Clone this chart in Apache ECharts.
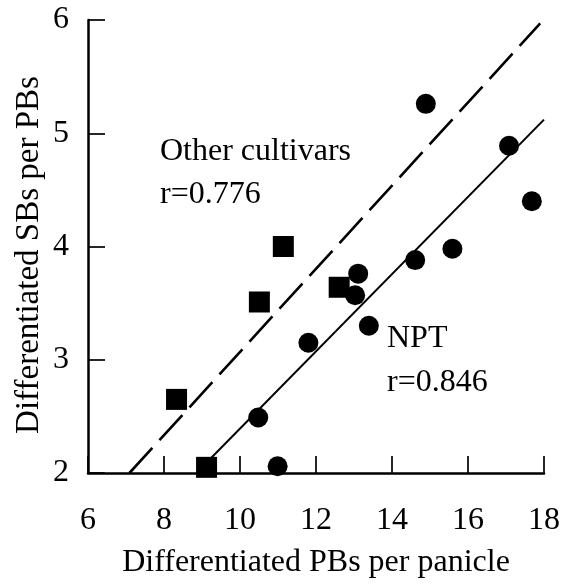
<!DOCTYPE html>
<html>
<head>
<meta charset="utf-8">
<script src="https://cdn.jsdelivr.net/npm/echarts@6/dist/echarts.min.js"></script>
<style>
html,body{margin:0;padding:0;background:#fff;}
#chart{width:569px;height:584px;}
</style>
</head>
<body>
<div id="chart"></div>
<script>
// Data
var nptX = [14.89, 17.08, 17.68, 15.59, 14.61, 13.11, 13.03, 13.39, 11.80, 10.48, 10.99];
var nptY = [5.26, 4.89, 4.40, 3.98, 3.88, 3.76, 3.57, 3.30, 3.15, 2.49, 2.06];
var otherX = [11.14, 10.51, 12.61, 8.33, 9.12];
var otherY = [4.00, 3.51, 3.64, 2.65, 2.05];
var nptFitX = [8.85, 18.0];
var nptFitY = [2.0, 5.12];
var otherFitX = [7.09, 17.9];
var otherFitY = [2.0, 5.97];
var xTicks = [6, 8, 10, 12, 14, 16, 18];
var yTicks = [2, 3, 4, 5, 6];
var xTitle = 'Differentiated PBs per panicle';
var yTitle = 'Differentiated SBs per PBs';

function pairs(xs, ys) { return xs.map(function (v, i) { return [v, ys[i]]; }); }

var FONT = '"Liberation Serif", "Times New Roman", serif';
var chart = echarts.init(document.getElementById('chart'), null, {renderer: 'canvas'});
chart.setOption({
  animation: false,
  backgroundColor: '#fff',
  grid: {left: 88, right: 25, top: 20, bottom: 108, containLabel: false},
  xAxis: {
    type: 'value', min: xTicks[0], max: xTicks[xTicks.length - 1], interval: 2,
    name: xTitle, nameLocation: 'middle', nameGap: 74,
    nameTextStyle: {fontFamily: FONT, fontSize: 32, color: '#000'},
    axisLine: {show: true, onZero: false, lineStyle: {color: '#000', width: 2.5}},
    axisTick: {show: true, inside: true, length: 17, lineStyle: {color: '#000', width: 1.7}},
    axisLabel: {fontFamily: FONT, fontSize: 32, color: '#000', margin: 32},
    splitLine: {show: false}
  },
  yAxis: {
    type: 'value', min: yTicks[0], max: yTicks[yTicks.length - 1], interval: 1,
    axisLine: {show: true, onZero: false, lineStyle: {color: '#000', width: 2.5}},
    axisTick: {show: true, inside: true, length: 17, lineStyle: {color: '#000', width: 1.7}},
    axisLabel: {fontFamily: FONT, fontSize: 32, color: '#000', margin: 19},
    splitLine: {show: false}
  },
  series: [
    {
      type: 'line', data: pairs(otherFitX, otherFitY), symbol: 'none', silent: true,
      lineStyle: {color: '#000', width: 2.6, type: [34, 10.5], opacity: 1}, z: 2
    },
    {
      type: 'line', data: pairs(nptFitX, nptFitY), symbol: 'none', silent: true,
      lineStyle: {color: '#000', width: 2, type: 'solid', opacity: 1}, z: 2
    },
    {
      type: 'scatter', data: pairs(nptX, nptY), symbol: 'circle', symbolSize: 20,
      itemStyle: {color: '#000', opacity: 1}, clip: false, z: 3
    },
    {
      type: 'scatter', data: pairs(otherX, otherY), symbol: 'rect', symbolSize: 21,
      itemStyle: {color: '#000', opacity: 1}, clip: false, z: 3
    }
  ],
  graphic: [
    {type: 'text', x: 29, y: 255, rotation: Math.PI / 2, silent: true,
      style: {text: yTitle, font: '33px ' + FONT, fill: '#000', textAlign: 'center', textVerticalAlign: 'middle'}},
    {type: 'text', x: 160, y: 152, silent: true,
      style: {text: 'Other cultivars', font: '32px ' + FONT, fill: '#000', textAlign: 'left', textVerticalAlign: 'middle'}},
    {type: 'text', x: 160, y: 195, silent: true,
      style: {text: 'r=0.776', font: '32px ' + FONT, fill: '#000', textAlign: 'left', textVerticalAlign: 'middle'}},
    {type: 'text', x: 387, y: 339, silent: true,
      style: {text: 'NPT', font: '32px ' + FONT, fill: '#000', textAlign: 'left', textVerticalAlign: 'middle'}},
    {type: 'text', x: 387, y: 383, silent: true,
      style: {text: 'r=0.846', font: '32px ' + FONT, fill: '#000', textAlign: 'left', textVerticalAlign: 'middle'}}
  ]
});
</script>
</body>
</html>
